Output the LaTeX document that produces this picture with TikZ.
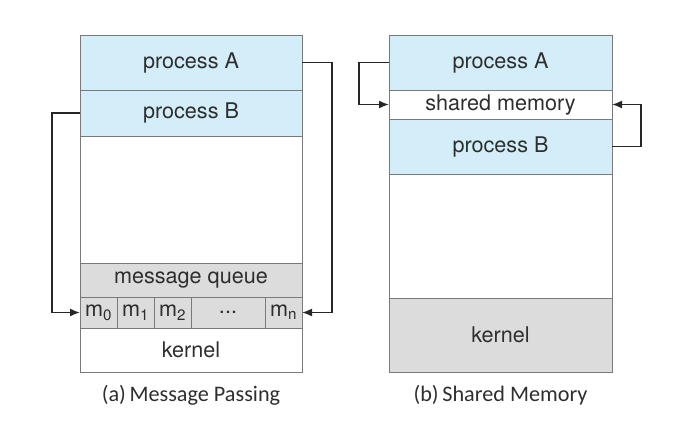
\documentclass[tikz,border=0pt]{standalone}
\usepackage{fontspec}
\setmainfont{TeX Gyre Heros}
\newfontfamily\capfont{Carlito}
\usepackage{tikz}
\usetikzlibrary{arrows.meta,positioning}

\definecolor{procblue}{HTML}{D3EEF9}
\definecolor{kgray}{HTML}{DCDCDC}
\definecolor{linegray}{HTML}{7A7A7A}
\definecolor{textgray}{HTML}{2E2E2E}
\definecolor{wiregray}{HTML}{262626}

\begin{document}
\begin{tikzpicture}[
    x=1pt, y=-1pt,
    layer/.style={
      draw=linegray,
      line width=1pt,
      minimum width=222pt,
      inner sep=0pt,
      outer sep=0pt,
      text=textgray,
      font=\fontsize{21.6}{25}\selectfont
    },
    proc/.style={layer, fill=procblue, minimum height=55pt},
    cell/.style={layer, fill=kgray, minimum width=37pt, minimum height=31pt},
    caption/.style={font=\capfont\fontsize{22.2}{26}\selectfont, text=textgray},
    wire/.style={draw=wiregray, line width=1.6pt, -{Latex[length=10pt,width=8pt]}}
]
  \useasboundingbox (0,0) rectangle (698,439);

  % (a) message passing column
  \node[proc, anchor=north west] (procAa) at (80,35) {process A};
  \node[proc, minimum height=46pt, below=0pt of procAa] (procBa) {process B};
  \node[layer, minimum height=127pt, below=0pt of procBa] (freeA) {};
  \node[layer, fill=kgray, minimum height=34pt, below=0pt of freeA] (mq) {message queue};

  % queue slots
  \node[cell, anchor=north west] (m0) at (mq.south west) {m\textsubscript{0}};
  \node[cell, right=0pt of m0] (m1) {m\textsubscript{1}};
  \node[cell, right=0pt of m1] (m2) {m\textsubscript{2}};
  \node[cell, minimum width=74pt, right=0pt of m2] (mdots) {...};
  \node[cell, right=0pt of mdots] (mn) {m\textsubscript{n}};

  \node[layer, minimum height=44pt, anchor=north west] (kernA) at (m0.south west) {kernel};
  \node[caption, below=10pt of kernA] (capA) {(a)\,Message Passing};

  \draw[wire] (procBa.west) -- ++(-28,0) |- (m0.west);
  \draw[wire] (procAa.east) -- ++(30,0) |- (mn.east);

  % (b) shared memory column
  \node[proc, minimum width=223pt, anchor=north west] (procAb) at (389,35) {process A};
  \node[layer, minimum width=223pt, minimum height=29pt, below=0pt of procAb] (shm) {shared memory};
  \node[proc, minimum width=223pt, below=0pt of shm] (procBb) {process B};
  \node[layer, minimum width=223pt, minimum height=124pt, below=0pt of procBb] (freeB) {};
  \node[layer, fill=kgray, minimum width=223pt, minimum height=74pt, below=0pt of freeB] (kernB) {kernel};
  \node[caption, below=10pt of kernB] (capB) {(b)\,Shared Memory};

  \draw[wire] (procAb.west) -- ++(-30,0) |- (shm.west);
  \draw[wire] (procBb.east) -- ++(29,0) |- (shm.east);
\end{tikzpicture}
\end{document}
